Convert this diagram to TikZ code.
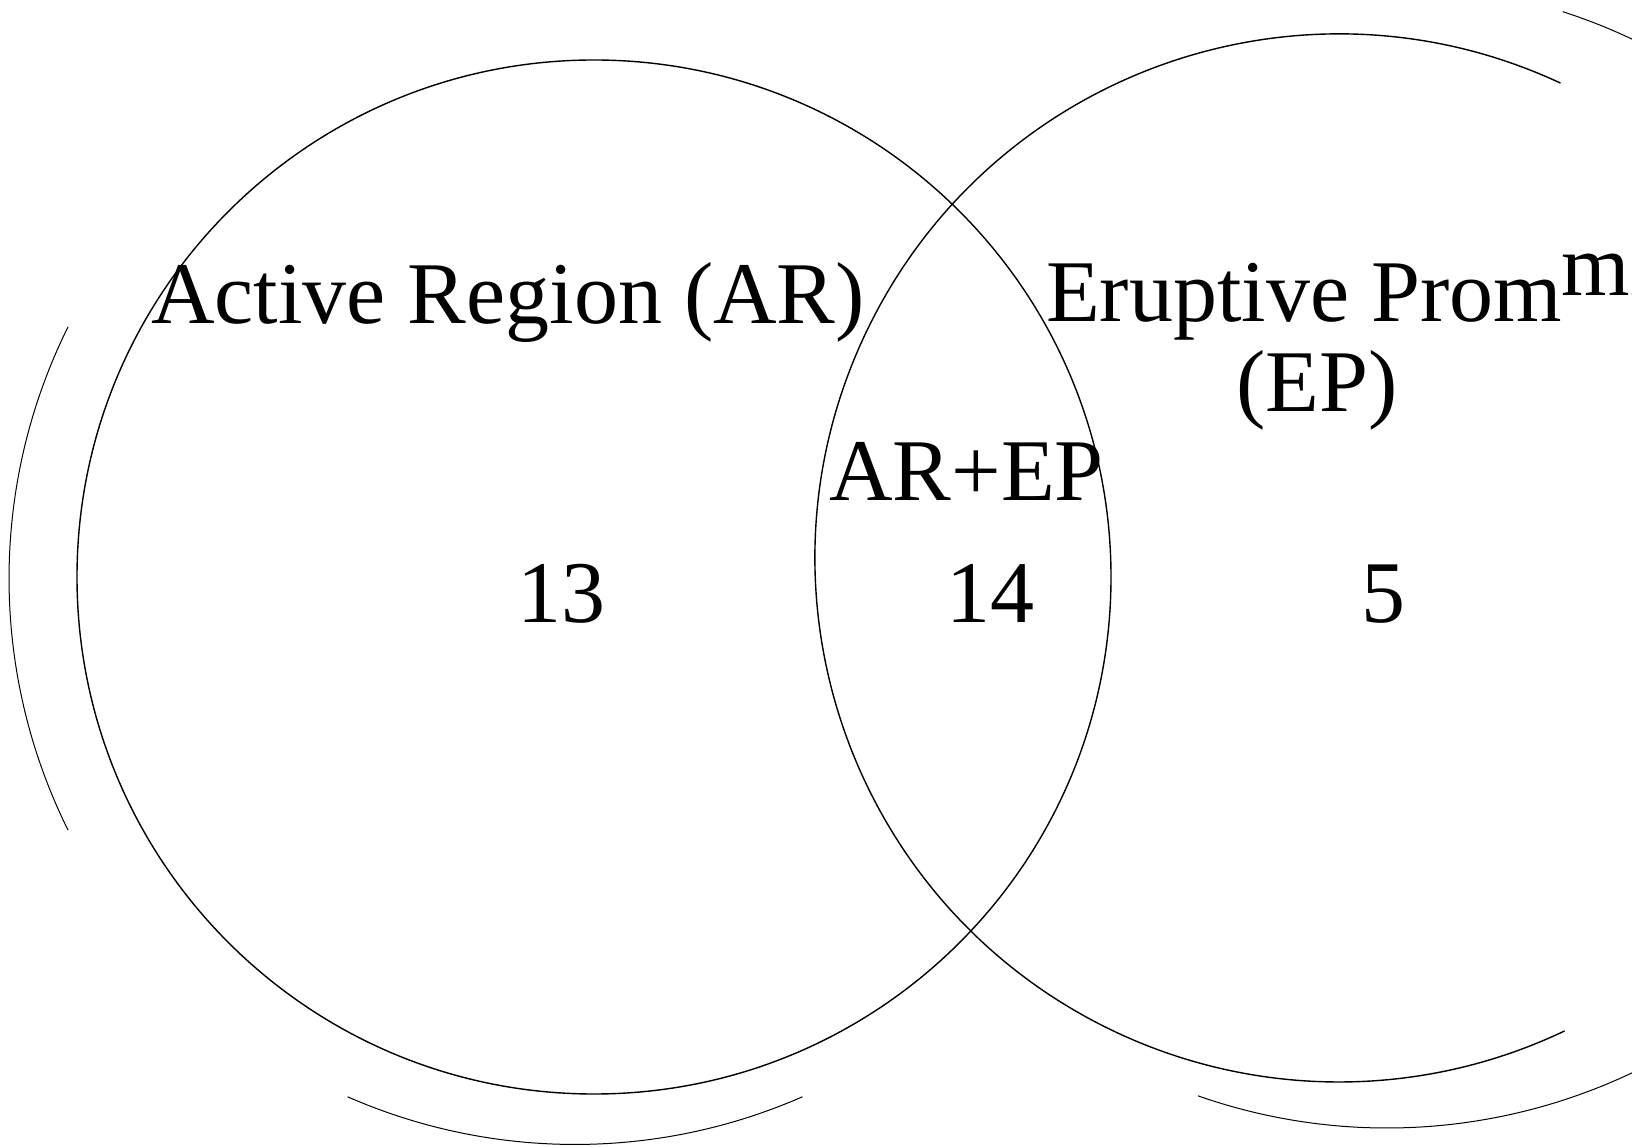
\documentclass[tikz,border=0pt]{standalone}
\usepackage{fontspec}
\setmainfont{Liberation Serif}
\begin{document}
\begin{tikzpicture}[x=1pt,y=1pt,
  venn/.style={line width=1.4pt},
  ring/.style={line width=1.0pt},
  lbl/.style={inner sep=0pt, font=\fontsize{88}{96}\selectfont},
  lblw/.style={lbl, anchor=base west},
  lblc/.style={lbl, anchor=base}]
\useasboundingbox (0,0) rectangle (1632,1146);
\clip (0,0) rectangle (1632,1146);
% Venn circles
\draw[venn] (594,569) circle[radius=517];
\draw[venn] (1339,588) ++(65:524) arc[start angle=65, end angle=295.5, radius=524];
% outer rings (left)
\draw[ring] (575,567.5) ++(153.6:566) arc[start angle=153.6, end angle=206.4, radius=566];
\draw[ring] (575,567.5) ++(246.3:566) arc[start angle=246.3, end angle=293.7, radius=566];
% outer rings (right)
\draw[ring] (1387,590) ++(72.1:572) arc[start angle=72.1, end angle=40, radius=572];
\draw[ring] (1387,590) ++(250.7:572) arc[start angle=250.7, end angle=320, radius=572];
% labels
\node[lblw] (ar) at (151,822) {Active Region (AR)};
\node[lblw] (ep) at (1046,824) {Eruptive Prom\raisebox{26pt}{mi}};
\node[lblc] (epabbr) at (1317,734) {(EP)};
\node[lblw] (arep) at (829,645) {AR+EP};
\node[lblc] (n13) at (561,523) {13};
\node[lblc] (n14) at (990,523) {14};
\node[lblc] (n5) at (1383,523) {5};
\end{tikzpicture}
\end{document}
